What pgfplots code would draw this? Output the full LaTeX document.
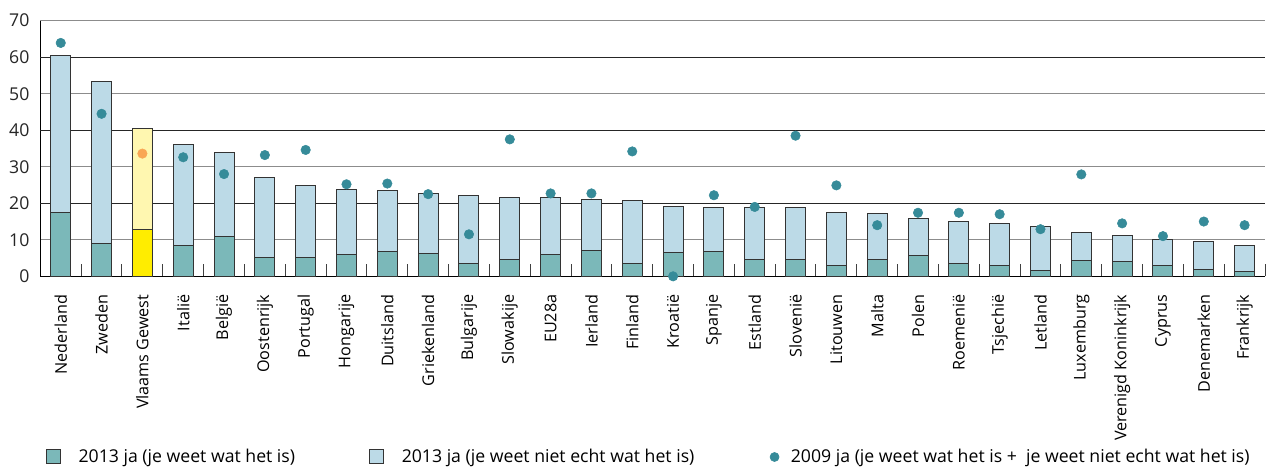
\documentclass[border=0pt]{standalone}
\usepackage{fontspec}
\setmainfont{Open Sans}
\usepackage{pgfplots}
\pgfplotsset{compat=1.18}
\definecolor{darkteal}{HTML}{7BB8B9}
\definecolor{lightblue}{HTML}{BCDAE7}
\definecolor{dotteal}{HTML}{368B99}
\definecolor{vyellow}{HTML}{FFED00}
\definecolor{vlight}{HTML}{FFF7B0}
\definecolor{vorange}{HTML}{F9A654}
\definecolor{gridgray}{HTML}{8C8C8C}
\pgfplotsset{
  mybar/.style={ybar, bar width=12pt, bar shift=0pt, draw=black!80, line width=0.6pt, forget plot},
}
\newcommand{\lf}{\fontsize{10.6}{12.5}\selectfont}
\newcommand{\xf}{\fontsize{9.7}{11.5}\selectfont}
\begin{document}
\begin{tikzpicture}
\begin{axis}[
  name=ax,
  scale only axis,
  width=734.8pt, height=153.4pt,
  xmin=-0.5, xmax=29.5, ymin=0, ymax=70,
  clip=false,
  axis x line*=bottom, axis y line*=left,
  axis line style={black, line width=0.7pt},
  ytick={0,10,...,70},
  ymajorgrids,
  grid style={gridgray, line width=0.7pt},
  extra y ticks={20,40,60},
  extra y tick labels={},
  extra y tick style={grid style={black!85, line width=0.7pt}},
  major tick length=0pt,
  xtick={0,...,29},
  minor xtick={-0.5,0.5,...,29.5},
  minor tick length=7.2pt,
  tick align=inside,
  minor tick style={black!75, line width=0.6pt},
  xticklabels={Nederland,Zweden,Vlaams Gewest,Italië,België,Oostenrijk,Portugal,Hongarije,Duitsland,Griekenland,Bulgarije,Slowakije,EU28a,Ierland,Finland,Kroatië,Spanje,Estland,Slovenië,Litouwen,Malta,Polen,Roemenië,Tsjechië,Letland,Luxemburg,Verenigd Koninkrijk,Cyprus,Denemarken,Frankrijk},
  xticklabel style={rotate=90, anchor=east, font=\xf},
  xticklabel shift=7.5pt,
  yticklabel style={font=\lf, text=black!85},
  yticklabel shift=3pt,
  /pgf/number format/assume math mode=true,
  legend columns=3,
  legend style={draw=none, fill=none, at={(0.0044,-0.7067)}, anchor=west, inner sep=0pt,
    font=\lf,
    /tikz/every even column/.append style={column sep=42.5pt}},
]
% light (total) bars
\addplot[mybar, fill=lightblue] coordinates {
(0,60.5) (1,53.3) (3,36.1) (4,34.0) (5,27.0) (6,24.8) (7,23.7) (8,23.5) (9,22.7)
(10,22.1) (11,21.7) (12,21.7) (13,21.1) (14,20.7) (15,19.2) (16,18.8) (17,18.8) (18,18.8) (19,17.6)
(20,17.3) (21,15.8) (22,14.9) (23,14.5) (24,13.6) (25,12.1) (26,11.2) (27,10.0) (28,9.5) (29,8.4)};
% dark bars
\addplot[mybar, fill=darkteal] coordinates {
(0,17.4) (1,8.9) (3,8.4) (4,10.9) (5,5.2) (6,5.2) (7,5.9) (8,6.8) (9,6.3)
(10,3.5) (11,4.7) (12,5.9) (13,7.1) (14,3.5) (15,6.4) (16,6.8) (17,4.6) (18,4.6) (19,2.9)
(20,4.7) (21,5.7) (22,3.6) (23,2.9) (24,1.7) (25,4.3) (26,4.1) (27,2.9) (28,2.0) (29,1.4)};
% Vlaams Gewest
\addplot[mybar, fill=vlight] coordinates {(2,40.5)};
\addplot[mybar, fill=vyellow] coordinates {(2,12.8)};
% 2009 dots
\addplot[only marks, color=dotteal, mark=*, mark size=2.85pt, mark options={fill=dotteal, draw=dotteal, line width=0.3pt}, forget plot] coordinates {
(0,63.9) (1,44.5) (3,32.6) (4,28.0) (5,33.2) (6,34.6) (7,25.2) (8,25.4) (9,22.5)
(10,11.5) (11,37.5) (12,22.7) (13,22.7) (14,34.2) (15,0) (16,22.2) (17,19.0) (18,38.5) (19,24.9)
(20,14.0) (21,17.4) (22,17.4) (23,17.0) (24,12.9) (25,27.9) (26,14.5) (27,11.0) (28,15.0) (29,14.0)};
\addplot[only marks, color=vorange, mark=*, mark size=2.85pt, mark options={fill=vorange, draw=vorange, line width=0.3pt}, forget plot] coordinates {(2,33.6)};
% legend
\addlegendimage{legend image code/.code={\draw[fill=darkteal, draw=black!80, line width=0.6pt] (0pt,-4.2pt) rectangle (8.4pt,4.2pt); \path (17pt,0pt);}}
\addlegendentry{2013 ja (je weet wat het is)}
\addlegendimage{legend image code/.code={\draw[fill=lightblue, draw=black!80, line width=0.6pt] (0pt,-4.2pt) rectangle (8.4pt,4.2pt); \path (17pt,0pt);}}
\addlegendentry{2013 ja (je weet niet echt wat het is)}
\addlegendimage{legend image code/.code={\fill[dotteal] (3.4pt,0pt) circle (2.7pt); \path (0pt,0pt) (11pt,0pt);}}
\addlegendentry{2009 ja (je weet wat het is +\ \ je weet niet echt wat het is)}
\end{axis}
\pgfresetboundingbox
\path[use as bounding box] ([xshift=-24.2pt,yshift=-115pt]ax.south west) rectangle ([xshift=2.4pt,yshift=12.4pt]ax.north east);
\end{tikzpicture}
\end{document}
